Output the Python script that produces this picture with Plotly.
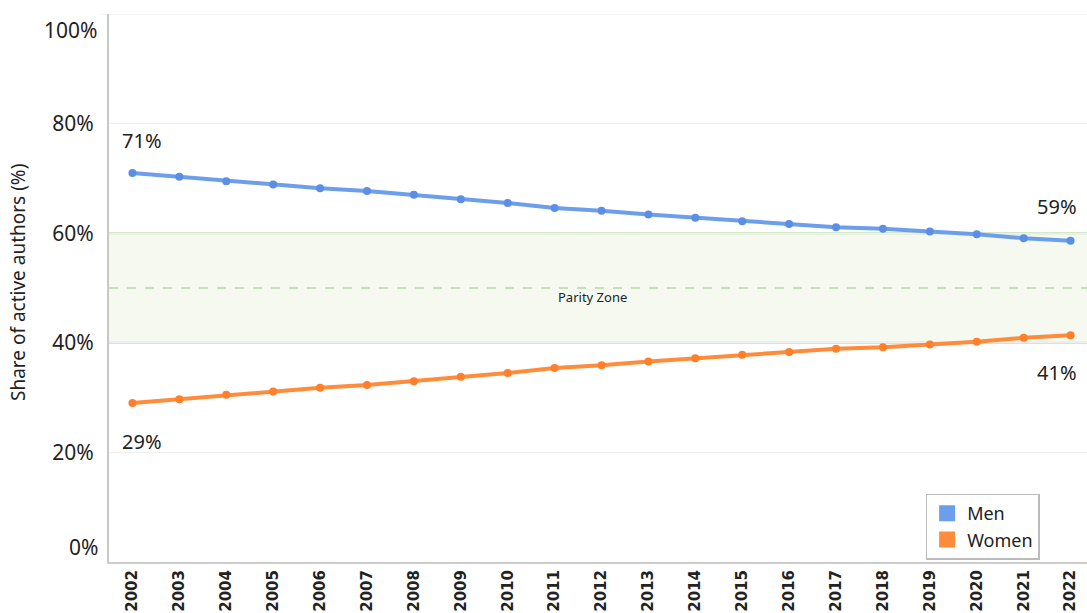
import plotly.graph_objects as go

years = [str(y) for y in range(2002, 2023)]
men = [71.0, 70.3, 69.5, 68.9, 68.2, 67.7, 67.0, 66.2, 65.5, 64.6, 64.1,
       63.4, 62.8, 62.2, 61.7, 61.1, 60.8, 60.3, 59.8, 59.1, 58.6]
women = [29.0, 29.7, 30.5, 31.1, 31.8, 32.3, 33.0, 33.8, 34.5, 35.4, 35.9,
         36.6, 37.2, 37.8, 38.3, 38.9, 39.2, 39.7, 40.2, 40.9, 41.4]
y_ticks = [20, 40, 60, 80]
y_ticktext = ["20%", "40%", "60%", "80%"]
parity_low, parity_mid, parity_high = 40, 50, 60

MEN_C = "#6d9eeb"
WOMEN_C = "#ff8c3a"
GREEN = "#c5dfb9"
FONT = "Noto Sans"

fig = go.Figure()

fig.add_shape(type="rect", xref="paper", yref="y", x0=0, x1=1,
              y0=parity_low, y1=parity_high, fillcolor="#f5f9ef",
              line=dict(width=0), layer="between")
for yv, dash in [(parity_low, "solid"), (parity_high, "solid"), (parity_mid, "dash")]:
    fig.add_shape(type="line", xref="paper", yref="y", x0=0, x1=1, y0=yv, y1=yv,
                  line=dict(color=GREEN, width=2, dash=dash), layer="between")

fig.add_trace(go.Scatter(x=years, y=men, mode="lines+markers", showlegend=False,
                         line=dict(color=MEN_C, width=4),
                         marker=dict(color="#5b8fe6", size=8)))
fig.add_trace(go.Scatter(x=years, y=women, mode="lines+markers", showlegend=False,
                         line=dict(color=WOMEN_C, width=4),
                         marker=dict(color="#ff7f2a", size=8)))

# legend-only entries (square swatches)
fig.add_trace(go.Scatter(x=[None], y=[None], name="Men", mode="markers",
                         marker=dict(color=MEN_C, symbol="square", size=16)))
fig.add_trace(go.Scatter(x=[None], y=[None], name="Women", mode="markers",
                         marker=dict(color=WOMEN_C, symbol="square", size=16)))

ann_font = dict(family=FONT, size=20, color="#222")
last = len(years) - 1
fig.add_annotation(x=0, y=men[0], text=f"{round(men[0])}%", showarrow=False,
                   xshift=10, yshift=32, font=ann_font)
fig.add_annotation(x=0, y=women[0], text=f"{round(women[0])}%", showarrow=False,
                   xshift=10, yshift=-38, font=ann_font)
fig.add_annotation(x=last, y=men[-1], text=f"{round(men[-1])}%", showarrow=False,
                   xshift=-14, yshift=34, font=ann_font)
fig.add_annotation(x=last, y=women[-1], text=f"{round(women[-1])}%", showarrow=False,
                   xshift=-14, yshift=-37, font=ann_font)
fig.add_annotation(x=10, y=parity_mid, text="Parity Zone", showarrow=False,
                   xshift=-9, yshift=-9, font=dict(family=FONT, size=13, color="#222"))

tick_font = dict(family=FONT, size=21, color="#222")
fig.add_annotation(xref="paper", x=0, y=100, text="100%", showarrow=False,
                   xanchor="right", xshift=-9, yshift=-16, font=tick_font)
fig.add_annotation(xref="paper", x=0, y=0, text="0%", showarrow=False,
                   xanchor="right", xshift=-9, yshift=15, font=tick_font)
fig.add_annotation(xref="paper", yref="paper", x=0, y=0.5, xanchor="center",
                   text="Share of active authors (%)", textangle=-90, showarrow=False,
                   xshift=-91, yshift=5, font=dict(family=FONT, size=19, color="#222"))

fig.update_layout(
    width=1087, height=613,
    margin=dict(l=109, r=0, t=14, b=51),
    plot_bgcolor="white", paper_bgcolor="white",
    font=dict(family=FONT, color="#222"),
    showlegend=True,
    legend=dict(x=0.835, y=0.125, xanchor="left", yanchor="top",
                bgcolor="white", bordercolor="#bbbbbb", borderwidth=1.5,
                font=dict(family=FONT, size=18, color="#222"),
                tracegroupgap=2, itemwidth=30, itemsizing="trace"),
    xaxis=dict(type="category", range=[-0.5, 20.35], tickangle=-90, automargin=False,
               tickfont=dict(family="DejaVu Sans", size=15, color="#222", weight="bold"),
               showgrid=False, showline=True, linecolor="#cccccc", linewidth=2,
               ticks="", zeroline=False),
    yaxis=dict(range=[0, 100], tickvals=y_ticks, ticktext=y_ticktext, automargin=False,
               tickfont=tick_font, showgrid=True, gridcolor="#eeeeee",
               showline=True, linecolor="#c8c8c8", linewidth=2, zeroline=False,
               ticks="", ticklabelstandoff=9),
)
fig.add_shape(type="line", xref="paper", yref="y", x0=-0.01, x1=1, y0=100, y1=100,
              line=dict(color="#eeeeee", width=1), layer="below")

fig.write_html("out.html", config={"displayModeBar": False},
               post_script="document.body.style.margin='0';document.body.style.overflow='hidden';")
